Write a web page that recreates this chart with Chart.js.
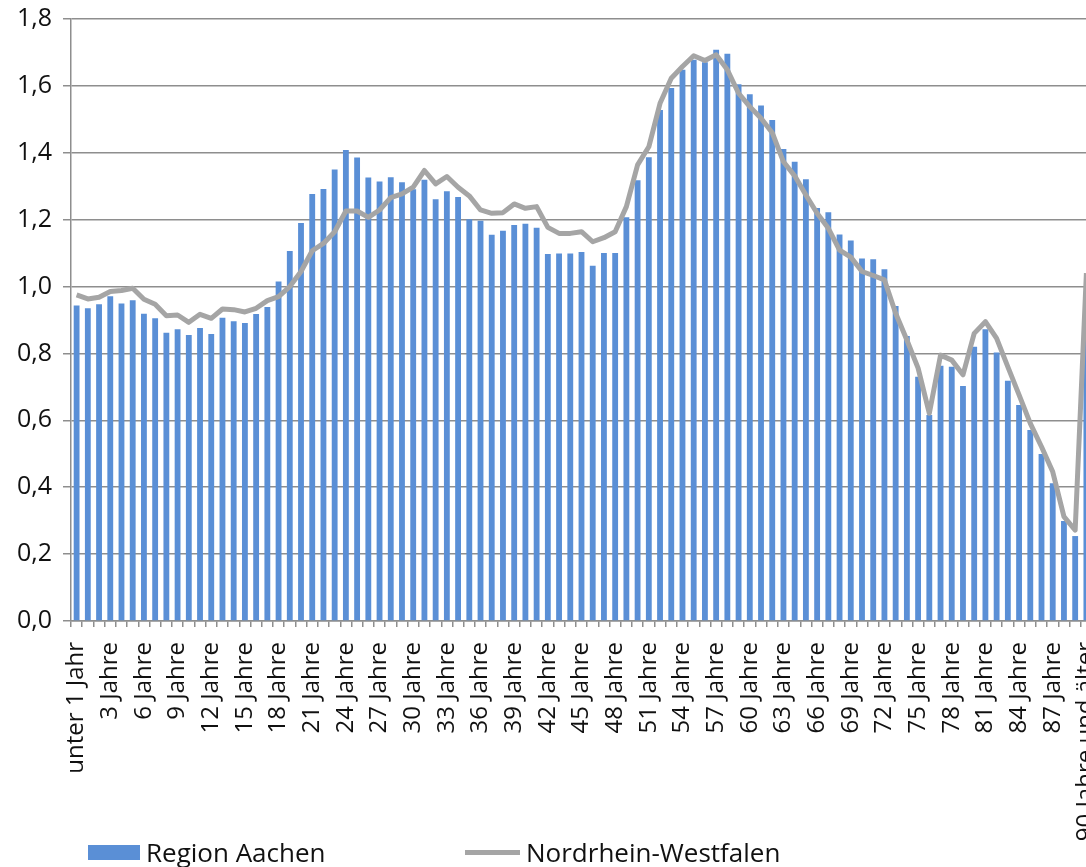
<!DOCTYPE html>
<html lang="de">
<head>
<meta charset="utf-8">
<title>Altersstruktur Region Aachen / NRW</title>
<script src="https://cdn.jsdelivr.net/npm/chart.js@4/dist/chart.umd.min.js"></script>
<style>
  html, body { margin: 0; padding: 0; background: #fff; overflow: hidden; }
  #wrap { position: relative; width: 1092px; height: 867px; }
  #legend { position: absolute; left: 0; top: 837px; font-family: "Open Sans", sans-serif; font-size: 26px; color: #111; }
  .item { position: absolute; top: 0; white-space: nowrap; display: flex; align-items: center; height: 30px; }
  .swatch { display: inline-block; margin-right: 6px; }
</style>
</head>
<body>
<div id="wrap">
  <canvas id="chart" width="1092" height="867"></canvas>
  <div id="legend"></div>
</div>
<script>
// Altersjahre
var ages = ["unter 1 Jahr", "1 Jahr"];
for (var a = 2; a < 90; a++) ages.push(a + " Jahre");
ages.push("90 Jahre und älter");

var yTicks = [0, 0.2, 0.4, 0.6, 0.8, 1.0, 1.2, 1.4, 1.6, 1.8];

// Region Aachen (Balken), Anteil in %
var aachen = [
  0.943, 0.935, 0.947, 0.971, 0.949, 0.959, 0.919, 0.905, 0.862, 0.872,
  0.855, 0.876, 0.858, 0.907, 0.896, 0.891, 0.918, 0.939, 1.015, 1.106,
  1.190, 1.277, 1.292, 1.350, 1.408, 1.386, 1.326, 1.314, 1.327, 1.312,
  1.291, 1.319, 1.261, 1.285, 1.268, 1.201, 1.197, 1.155, 1.167, 1.184,
  1.188, 1.176, 1.097, 1.099, 1.099, 1.103, 1.062, 1.100, 1.100, 1.207,
  1.318, 1.387, 1.528, 1.594, 1.648, 1.678, 1.671, 1.708, 1.696, 1.605,
  1.575, 1.541, 1.498, 1.411, 1.373, 1.321, 1.235, 1.222, 1.156, 1.138,
  1.084, 1.082, 1.052, 0.942, 0.852, 0.730, 0.616, 0.763, 0.760, 0.703,
  0.820, 0.872, 0.803, 0.718, 0.646, 0.571, 0.499, 0.412, 0.299, 0.254,
  0.890
];

// Nordrhein-Westfalen (Linie)
var nrw = [
  0.975, 0.963, 0.968, 0.985, 0.988, 0.995, 0.962, 0.947, 0.913, 0.915,
  0.893, 0.917, 0.905, 0.933, 0.931, 0.924, 0.935, 0.958, 0.970, 1.000,
  1.045, 1.107, 1.129, 1.164, 1.226, 1.226, 1.207, 1.229, 1.266, 1.277,
  1.297, 1.347, 1.307, 1.329, 1.297, 1.271, 1.229, 1.219, 1.221, 1.247,
  1.234, 1.239, 1.177, 1.159, 1.159, 1.164, 1.134, 1.146, 1.164, 1.239,
  1.364, 1.418, 1.548, 1.623, 1.658, 1.690, 1.676, 1.693, 1.648, 1.578,
  1.538, 1.503, 1.460, 1.373, 1.331, 1.274, 1.219, 1.174, 1.109, 1.088,
  1.045, 1.033, 1.020, 0.920, 0.840, 0.756, 0.621, 0.795, 0.780, 0.736,
  0.860, 0.895, 0.845, 0.760, 0.676, 0.591, 0.521, 0.446, 0.312, 0.272,
  1.040
];

var blue = "#5a8fd6";
var grey = "#a5a5a5";
var gridGrey = "#8e8e8e";

var ctx = document.getElementById("chart");

var chart = new Chart(ctx, {
  type: "bar",
  data: {
    labels: ages,
    datasets: [
      {
        label: "Region Aachen",
        data: aachen,
        backgroundColor: blue,
        barPercentage: 0.52,
        categoryPercentage: 1.0,
        order: 1
      },
      {
        type: "line",
        label: "Nordrhein-Westfalen",
        data: nrw,
        borderColor: grey,
        backgroundColor: grey,
        borderWidth: 5,
        pointRadius: 0,
        tension: 0,
        borderJoinStyle: "round",
        order: 0
      }
    ]
  },
  options: {
    responsive: false,
    animation: false,
    layout: { padding: { top: 19, left: 0, right: 0, bottom: 0 } },
    plugins: {
      legend: { display: false },
      tooltip: { enabled: false }
    },
    scales: {
      x: {
        offset: true,
        grid: { display: true, drawOnChartArea: false, tickLength: 6, color: gridGrey, lineWidth: 1.5, offset: true },
        border: { color: gridGrey, width: 1.5 },
        ticks: {
          autoSkip: false,
          maxRotation: 90,
          minRotation: 90,
          padding: 15,
          color: "#111",
          font: { family: "Open Sans", size: 24 },
          callback: function (val, i) { return i % 3 === 0 ? this.getLabelForValue(val) : ""; }
        },
        afterFit: function (scale) {
          scale.height = 867 - 621;
          scale.paddingLeft = 0;
          scale.paddingRight = 0;
        }
      },
      y: {
        min: 0,
        max: 1.8,
        afterBuildTicks: function (scale) { scale.ticks = yTicks.map(function (v) { return { value: v }; }); },
        grid: { color: gridGrey, lineWidth: 1.5, tickLength: 8 },
        border: { color: gridGrey, width: 1.5 },
        ticks: {
          padding: 11,
          color: "#111",
          font: { family: "Open Sans", size: 25 },
          callback: function (v) { return v.toFixed(1).replace(".", ","); }
        },
        afterFit: function (scale) {
          scale.width = 71;
          scale.paddingTop = 0;
          scale.paddingBottom = 0;
        }
      }
    }
  }
});

// Legende als HTML unter dem Diagramm
var legend = document.getElementById("legend");
var lefts = [88, 465];
chart.data.datasets.forEach(function (ds, i) {
  var item = document.createElement("div");
  item.className = "item";
  item.style.left = lefts[i] + "px";
  var sw = document.createElement("span");
  sw.className = "swatch";
  if (ds.type === "line") {
    sw.style.width = "55px"; sw.style.height = "5px"; sw.style.background = ds.borderColor;
  } else {
    sw.style.width = "52px"; sw.style.height = "15px"; sw.style.background = ds.backgroundColor;
  }
  item.appendChild(sw);
  item.appendChild(document.createTextNode(ds.label));
  legend.appendChild(item);
});
</script>
</body>
</html>
